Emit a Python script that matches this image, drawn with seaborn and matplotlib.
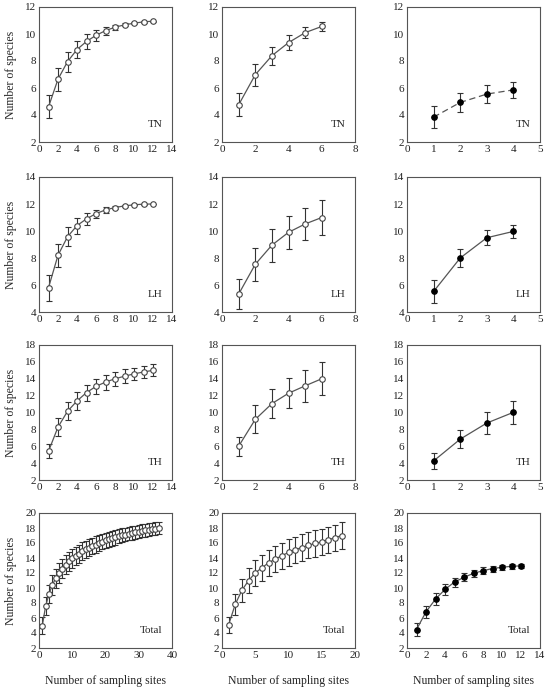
import numpy as np
import pandas as pd
import matplotlib
matplotlib.use("Agg")
import matplotlib.pyplot as plt
import seaborn as sns

# ---- data (mean number of species, error) ----
sites_12 = list(range(1, 13))
sites_6 = list(range(1, 7))
sites_4 = list(range(1, 5))
sites_36 = list(range(1, 37))
sites_18 = list(range(1, 19))

tn_a = [4.6, 6.65, 7.95, 8.85, 9.45, 9.9, 10.25, 10.5, 10.68, 10.8, 10.9, 10.95]
tn_a_err = [0.85, 0.85, 0.75, 0.6, 0.55, 0.4, 0.3, 0.2, 0.12, 0.08, 0.05, 0.03]
tn_b = [4.75, 6.98, 8.39, 9.36, 10.1, 10.56]
tn_b_err = [0.85, 0.8, 0.65, 0.55, 0.4, 0.35]
tn_c = [3.84, 4.93, 5.55, 5.86]
tn_c_err = [0.8, 0.7, 0.65, 0.6]

lh_a = [5.8, 8.2, 9.57, 10.4, 10.9, 11.29, 11.56, 11.74, 11.86, 11.94, 11.99, 12.0]
lh_a_err = [0.95, 0.85, 0.7, 0.6, 0.45, 0.3, 0.2, 0.1, 0.06, 0.04, 0.03, 0.02]
lh_b = [5.32, 7.53, 8.95, 9.9, 10.52, 11.0]
lh_b_err = [1.1, 1.2, 1.22, 1.2, 1.2, 1.27]
lh_c = [5.52, 8.0, 9.5, 9.97]
lh_c_err = [0.82, 0.65, 0.55, 0.47]

th_a = [5.41, 8.27, 10.14, 11.37, 12.36, 13.1, 13.6, 14.0, 14.3, 14.58, 14.8, 15.0]
th_a_err = [0.8, 1.05, 1.05, 1.05, 0.95, 0.9, 0.9, 0.85, 0.8, 0.75, 0.75, 0.7]
th_b = [6.0, 9.18, 11.05, 12.28, 13.16, 14.0]
th_b_err = [1.15, 1.65, 1.7, 1.75, 1.9, 1.95]
th_c = [4.26, 6.84, 8.75, 10.02]
th_c_err = [0.95, 1.1, 1.28, 1.4]

tot_a = [5.0, 7.6, 9.2, 10.4, 11.3, 12.0, 12.6, 13.1, 13.55, 13.95, 14.3, 14.6,
         14.9, 15.15, 15.4, 15.6, 15.8, 16.0, 16.2, 16.35, 16.5, 16.65, 16.78, 16.9,
         17.02, 17.13, 17.24, 17.34, 17.44, 17.53, 17.62, 17.7, 17.78, 17.86, 17.93, 18.0]
tot_a_err = [1.1, 1.2, 1.25, 1.3, 1.3, 1.3, 1.3, 1.28, 1.26, 1.24, 1.22, 1.2,
             1.18, 1.16, 1.14, 1.12, 1.1, 1.08, 1.06, 1.04, 1.02, 1.0, 0.98, 0.96,
             0.94, 0.92, 0.9, 0.89, 0.88, 0.87, 0.86, 0.85, 0.84, 0.83, 0.82, 0.81]
tot_b = [5.1, 7.85, 9.7, 11.0, 12.0, 12.7, 13.35, 13.85, 14.3, 14.75, 15.1, 15.4,
         15.7, 15.95, 16.15, 16.45, 16.7, 17.0]
tot_b_err = [1.1, 1.4, 1.55, 1.65, 1.7, 1.72, 1.73, 1.74, 1.75, 1.75, 1.75, 1.75,
             1.75, 1.75, 1.75, 1.75, 1.75, 1.75]
tot_c = [4.46, 6.82, 8.52, 9.81, 10.8, 11.42, 11.96, 12.3, 12.6, 12.76, 12.9, 12.95]
tot_c_err = [0.9, 0.8, 0.8, 0.7, 0.6, 0.55, 0.5, 0.45, 0.4, 0.35, 0.3, 0.3]

row_labels = ["TN", "LH", "TH", "Total"]
row_ylims = [(2, 12), (4, 14), (2, 18), (2, 20)]
row_yticks = [range(2, 13, 2), range(4, 15, 2), range(2, 19, 2), range(2, 21, 2)]

panels = [
    [(sites_12, tn_a, tn_a_err, (0, 14), range(0, 15, 2)),
     (sites_6, tn_b, tn_b_err, (0, 8), range(0, 9, 2)),
     (sites_4, tn_c, tn_c_err, (0, 5), range(0, 6, 1))],
    [(sites_12, lh_a, lh_a_err, (0, 14), range(0, 15, 2)),
     (sites_6, lh_b, lh_b_err, (0, 8), range(0, 9, 2)),
     (sites_4, lh_c, lh_c_err, (0, 5), range(0, 6, 1))],
    [(sites_12, th_a, th_a_err, (0, 14), range(0, 15, 2)),
     (sites_6, th_b, th_b_err, (0, 8), range(0, 9, 2)),
     (sites_4, th_c, th_c_err, (0, 5), range(0, 6, 1))],
    [(sites_36, tot_a, tot_a_err, (0, 40), range(0, 41, 10)),
     (sites_18, tot_b, tot_b_err, (0, 20), range(0, 21, 5)),
     (sites_12, tot_c, tot_c_err, (0, 14), range(0, 15, 2))],
]

sns.set_theme(style="white")
plt.rcParams["font.family"] = ["Liberation Serif", "DejaVu Serif"]
plt.rcParams["font.size"] = 8

W, H = 550, 691
fig = plt.figure(figsize=(W / 100, H / 100), dpi=100)

lefts = [39, 222, 407]
tops = [7, 177, 345, 513]
aw, ah = 133, 135
line_col = "#555555"

for r in range(4):
    for c in range(3):
        x, y, err, xlim, xticks = panels[r][c]
        ax = fig.add_axes([lefts[c] / W, 1 - (tops[r] + ah) / H, aw / W, ah / H])
        df = pd.DataFrame({"sites": x, "species": y})
        filled = c == 2
        ax.errorbar(x, y, yerr=err, fmt="none", ecolor="#333333",
                    elinewidth=0.8, capsize=2, capthick=0.8, zorder=2)
        sns.lineplot(data=df, x="sites", y="species", ax=ax, color=line_col,
                     linewidth=0.9, zorder=3,
                     linestyle=(0, (5, 3)) if (r == 0 and c == 2) else "-")
        sns.scatterplot(data=df, x="sites", y="species", ax=ax, zorder=4,
                        s=16, marker="o",
                        color="black" if filled else "white",
                        edgecolor="black" if filled else "#444444",
                        linewidth=0.8)
        ax.set_xlim(*xlim)
        ax.set_ylim(*row_ylims[r])
        ax.set_xticks(list(xticks))
        ax.set_yticks(list(row_yticks[r]))
        ax.tick_params(direction="in", length=2, width=0.6, labelsize=8,
                       colors="#222222", pad=2)
        for sp in ax.spines.values():
            sp.set_color("#555555")
            sp.set_linewidth(0.8)
        ax.set_xlabel("Number of sampling sites" if r == 3 else "", fontsize=8.5,
                      labelpad=11)
        ax.set_ylabel("Number of species" if c == 0 else "", fontsize=8.5,
                      labelpad=6)
        ax.text(0.93, 0.13, row_labels[r], transform=ax.transAxes,
                ha="right", va="center", fontsize=8)

fig.savefig("out.png", dpi=100)
